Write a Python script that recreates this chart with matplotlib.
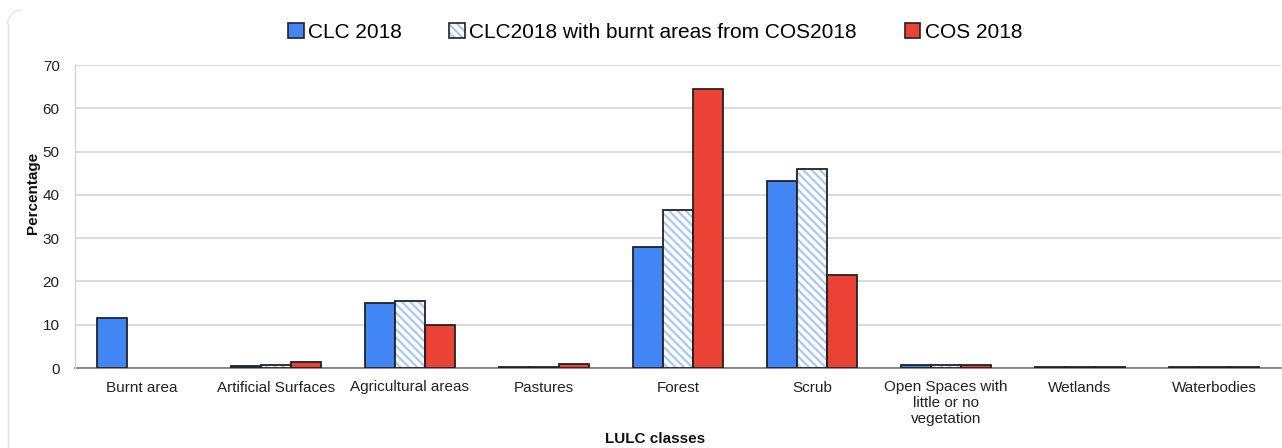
import matplotlib
matplotlib.use("Agg")
import matplotlib.pyplot as plt
import numpy as np
from matplotlib.patches import Patch, Arc
from matplotlib.lines import Line2D
from matplotlib.legend_handler import HandlerTuple
from matplotlib.transforms import Affine2D

categories = ["Burnt area", "Artificial Surfaces", "Agricultural areas", "Pastures",
              "Forest", "Scrub", "Open Spaces with\nlittle or no\nvegetation",
              "Wetlands", "Waterbodies"]
clc2018 = [11.6, 0.5, 15.1, 0.2, 28.0, 43.3, 0.6, 0.2, 0.2]
clc2018_burnt = [0.0, 0.6, 15.5, 0.3, 36.6, 45.9, 0.8, 0.2, 0.2]
cos2018 = [0.0, 1.5, 10.0, 1.0, 64.4, 21.6, 0.8, 0.2, 0.2]
series_names = ["CLC 2018", "CLC2018 with burnt areas from COS2018", "COS 2018"]
yticks = [0, 10, 20, 30, 40, 50, 60, 70]

plt.rcParams['font.family'] = ['Liberation Sans', 'DejaVu Sans']
plt.rcParams['hatch.linewidth'] = 1.6

BLUE = "#4285f4"
RED = "#ea4335"
HATCH = "#a8c7fa"
EDGE = "#222222"
LW = 1.3


def lws(vals):
    return [LW if v > 0 else 0 for v in vals]


W, H = 1282, 448
fig = plt.figure(figsize=(W / 100, H / 100), dpi=100)
# card frame (left edge and rounded top-left corner only)
pix = Affine2D().scale(1 / W, 1 / H) + fig.transFigure
fig.lines.append(Line2D([7.5, 7.5], [0, H - 24], transform=pix,
                        color="#e0e0e0", linewidth=1.0))
fig.patches.append(Arc((21.5, H - 24), 28, 28, theta1=90, theta2=180,
                       transform=pix, color="#e6e6e6", linewidth=1.0))

ax = fig.add_axes([75 / W, 1 - 368 / H, 1206 / W, 303 / H])
x = np.arange(len(categories)) + 0.5
w = 0.224

ax.bar(x - w, clc2018, w, color=BLUE, edgecolor=EDGE, linewidth=lws(clc2018), zorder=3)
ax.bar(x, clc2018_burnt, w, color="white", edgecolor=HATCH, linewidth=0,
       hatch="\\\\\\\\", zorder=3)
ax.bar(x, clc2018_burnt, w, fill=False, edgecolor=EDGE,
       linewidth=lws(clc2018_burnt), zorder=4)
ax.bar(x + w, cos2018, w, color=RED, edgecolor=EDGE, linewidth=lws(cos2018), zorder=3)

ax.set_xlim(0, len(categories))
ax.set_ylim(0, 70)
ax.set_yticks(yticks)
ax.set_xticks(x)
ax.set_xticklabels(categories, fontsize=11, linespacing=1.18)
ax.tick_params(axis='both', length=0, labelsize=11, colors="#222222")
ax.tick_params(axis='x', pad=9)
ax.tick_params(axis='y', pad=11)
ax.grid(axis='y', color="#d4d4d4", linewidth=1.2, zorder=0)
ax.set_axisbelow(True)
for s in ["top", "right"]:
    ax.spines[s].set_visible(False)
ax.spines["left"].set_color("#d4d4d4")
ax.spines["left"].set_linewidth(1.0)
ax.spines["bottom"].set_color("#777777")
ax.spines["bottom"].set_linewidth(1.2)
ax.spines["bottom"].set_zorder(2)

fig.text(33 / W, 1 - 193 / H, "Percentage", rotation=90, ha="center",
         va="center", fontsize=11, fontweight="bold", color="#111111")
fig.text(655 / W, 1 - 439 / H, "LULC classes", ha="center", va="center",
         fontsize=11, fontweight="bold", color="#111111")

h1 = Patch(facecolor=BLUE, edgecolor=EDGE, linewidth=1.2)
h2a = Patch(facecolor="white", edgecolor=HATCH, linewidth=0, hatch="\\\\\\\\")
h2b = Patch(fill=False, edgecolor=EDGE, linewidth=1.2)
h3 = Patch(facecolor=RED, edgecolor=EDGE, linewidth=1.2)
fig.legend([h1, (h2a, h2b), h3], series_names,
           handler_map={tuple: HandlerTuple(ndivide=1)},
           loc="center", bbox_to_anchor=(655 / W, 1 - 32 / H), ncol=3,
           frameon=False, fontsize=15, handlelength=0.75, handleheight=0.75,
           handletextpad=0.2, columnspacing=2.3)

fig.savefig("out.png", dpi=100)
